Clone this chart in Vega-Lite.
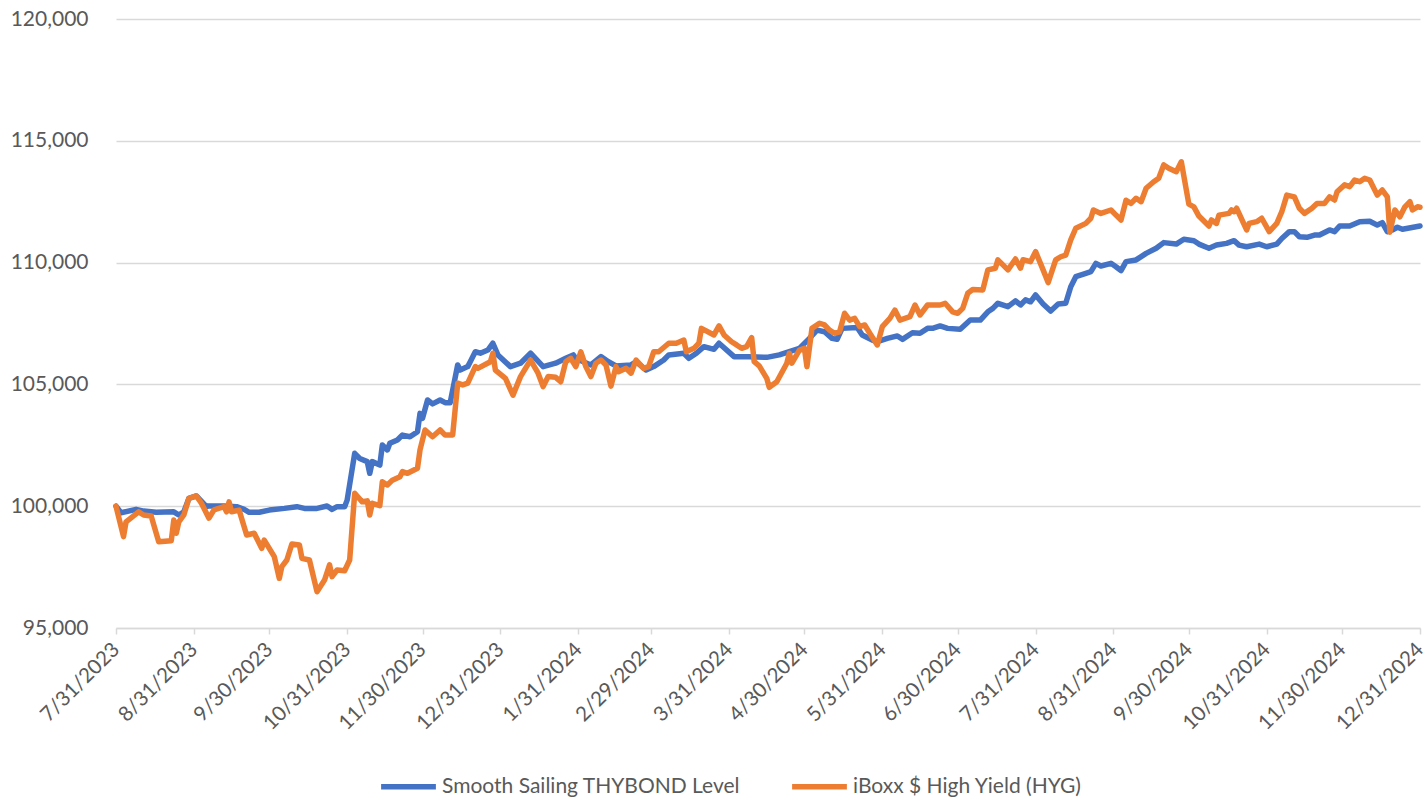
{
  "$schema": "https://vega.github.io/schema/vega-lite/v6.json",
  "autosize": {"type": "none"},
  "width": 1304,
  "height": 609,
  "padding": {"left": 116, "top": 19, "right": 7, "bottom": 170},
  "background": "white",
  "config": {"view": {"stroke": null}, "font": "Lato"},
  "datasets": {
    "thybond": [
      {"d":"2023-07-31","v":100000},{"d":"2023-08-02","v":99730},{"d":"2023-08-08","v":99870},{"d":"2023-08-11","v":99800},{"d":"2023-08-16","v":99750},{"d":"2023-08-23","v":99770},{"d":"2023-08-25","v":99640},{"d":"2023-08-27","v":99770},{"d":"2023-08-29","v":100320},{"d":"2023-09-01","v":100420},{"d":"2023-09-05","v":99980},{"d":"2023-09-06","v":100010},{"d":"2023-09-12","v":100010},{"d":"2023-09-17","v":99980},{"d":"2023-09-20","v":99870},{"d":"2023-09-22","v":99750},{"d":"2023-09-26","v":99750},{"d":"2023-09-30","v":99840},{"d":"2023-10-06","v":99910},{"d":"2023-10-11","v":99980},{"d":"2023-10-14","v":99910},{"d":"2023-10-19","v":99910},{"d":"2023-10-23","v":100010},{"d":"2023-10-25","v":99870},{"d":"2023-10-27","v":99980},{"d":"2023-10-30","v":99980},{"d":"2023-10-31","v":100250},{"d":"2023-11-03","v":102170},{"d":"2023-11-05","v":101960},{"d":"2023-11-08","v":101830},{"d":"2023-11-09","v":101350},{"d":"2023-11-10","v":101830},{"d":"2023-11-13","v":101690},{"d":"2023-11-14","v":102510},{"d":"2023-11-16","v":102310},{"d":"2023-11-17","v":102580},{"d":"2023-11-20","v":102720},{"d":"2023-11-22","v":102920},{"d":"2023-11-25","v":102850},{"d":"2023-11-28","v":103060},{"d":"2023-11-29","v":103810},{"d":"2023-11-30","v":103610},{"d":"2023-12-02","v":104360},{"d":"2023-12-04","v":104200},{"d":"2023-12-07","v":104360},{"d":"2023-12-09","v":104250},{"d":"2023-12-11","v":104250},{"d":"2023-12-14","v":105800},{"d":"2023-12-15","v":105590},{"d":"2023-12-18","v":105730},{"d":"2023-12-19","v":105930},{"d":"2023-12-21","v":106340},{"d":"2023-12-23","v":106280},{"d":"2023-12-26","v":106410},{"d":"2023-12-28","v":106690},{"d":"2023-12-30","v":106210},{"d":"2024-01-04","v":105730},{"d":"2024-01-08","v":105870},{"d":"2024-01-12","v":106280},{"d":"2024-01-17","v":105730},{"d":"2024-01-22","v":105870},{"d":"2024-01-26","v":106070},{"d":"2024-01-29","v":106210},{"d":"2024-01-30","v":106070},{"d":"2024-02-02","v":105930},{"d":"2024-02-05","v":105800},{"d":"2024-02-09","v":106140},{"d":"2024-02-12","v":105930},{"d":"2024-02-15","v":105760},{"d":"2024-02-21","v":105800},{"d":"2024-02-23","v":105930},{"d":"2024-02-27","v":105590},{"d":"2024-03-01","v":105730},{"d":"2024-03-05","v":106000},{"d":"2024-03-07","v":106210},{"d":"2024-03-13","v":106280},{"d":"2024-03-15","v":106070},{"d":"2024-03-18","v":106280},{"d":"2024-03-21","v":106550},{"d":"2024-03-25","v":106440},{"d":"2024-03-27","v":106690},{"d":"2024-04-02","v":106140},{"d":"2024-04-08","v":106140},{"d":"2024-04-15","v":106110},{"d":"2024-04-20","v":106210},{"d":"2024-04-28","v":106480},{"d":"2024-05-02","v":106890},{"d":"2024-05-05","v":107230},{"d":"2024-05-08","v":107160},{"d":"2024-05-11","v":106890},{"d":"2024-05-13","v":106850},{"d":"2024-05-15","v":107300},{"d":"2024-05-21","v":107340},{"d":"2024-05-23","v":107030},{"d":"2024-05-27","v":106820},{"d":"2024-05-29","v":106750},{"d":"2024-06-02","v":106890},{"d":"2024-06-06","v":106990},{"d":"2024-06-08","v":106850},{"d":"2024-06-12","v":107120},{"d":"2024-06-15","v":107100},{"d":"2024-06-18","v":107300},{"d":"2024-06-20","v":107300},{"d":"2024-06-23","v":107400},{"d":"2024-06-26","v":107300},{"d":"2024-07-01","v":107260},{"d":"2024-07-05","v":107640},{"d":"2024-07-09","v":107640},{"d":"2024-07-12","v":107980},{"d":"2024-07-14","v":108120},{"d":"2024-07-16","v":108330},{"d":"2024-07-20","v":108190},{"d":"2024-07-23","v":108430},{"d":"2024-07-25","v":108260},{"d":"2024-07-27","v":108470},{"d":"2024-07-29","v":108390},{"d":"2024-07-31","v":108670},{"d":"2024-08-03","v":108300},{"d":"2024-08-06","v":108010},{"d":"2024-08-09","v":108300},{"d":"2024-08-12","v":108330},{"d":"2024-08-14","v":109010},{"d":"2024-08-16","v":109420},{"d":"2024-08-20","v":109560},{"d":"2024-08-22","v":109630},{"d":"2024-08-24","v":109970},{"d":"2024-08-26","v":109860},{"d":"2024-08-30","v":109970},{"d":"2024-09-01","v":109830},{"d":"2024-09-03","v":109670},{"d":"2024-09-05","v":110040},{"d":"2024-09-09","v":110110},{"d":"2024-09-13","v":110380},{"d":"2024-09-17","v":110590},{"d":"2024-09-20","v":110820},{"d":"2024-09-25","v":110760},{"d":"2024-09-28","v":110960},{"d":"2024-10-02","v":110900},{"d":"2024-10-04","v":110760},{"d":"2024-10-08","v":110590},{"d":"2024-10-11","v":110720},{"d":"2024-10-15","v":110790},{"d":"2024-10-18","v":110900},{"d":"2024-10-20","v":110720},{"d":"2024-10-23","v":110650},{"d":"2024-10-28","v":110760},{"d":"2024-10-31","v":110650},{"d":"2024-11-04","v":110760},{"d":"2024-11-06","v":110990},{"d":"2024-11-09","v":111270},{"d":"2024-11-11","v":111270},{"d":"2024-11-13","v":111060},{"d":"2024-11-16","v":111040},{"d":"2024-11-19","v":111130},{"d":"2024-11-21","v":111130},{"d":"2024-11-25","v":111340},{"d":"2024-11-27","v":111270},{"d":"2024-11-29","v":111500},{"d":"2024-12-03","v":111500},{"d":"2024-12-07","v":111680},{"d":"2024-12-11","v":111700},{"d":"2024-12-14","v":111540},{"d":"2024-12-16","v":111640},{"d":"2024-12-18","v":111270},{"d":"2024-12-20","v":111340},{"d":"2024-12-22","v":111450},{"d":"2024-12-24","v":111370},{"d":"2024-12-31","v":111500}
    ],
    "hyg": [
      {"d":"2023-07-31","v":100000},{"d":"2023-08-03","v":98750},{"d":"2023-08-04","v":99360},{"d":"2023-08-09","v":99770},{"d":"2023-08-11","v":99640},{"d":"2023-08-14","v":99600},{"d":"2023-08-17","v":98540},{"d":"2023-08-22","v":98580},{"d":"2023-08-23","v":99430},{"d":"2023-08-24","v":98890},{"d":"2023-08-25","v":99360},{"d":"2023-08-27","v":99640},{"d":"2023-08-29","v":100320},{"d":"2023-09-01","v":100420},{"d":"2023-09-03","v":100120},{"d":"2023-09-06","v":99510},{"d":"2023-09-08","v":99850},{"d":"2023-09-12","v":99980},{"d":"2023-09-13","v":99770},{"d":"2023-09-14","v":100180},{"d":"2023-09-15","v":99770},{"d":"2023-09-18","v":99840},{"d":"2023-09-21","v":98820},{"d":"2023-09-24","v":98890},{"d":"2023-09-27","v":98270},{"d":"2023-09-28","v":98610},{"d":"2023-10-02","v":97930},{"d":"2023-10-04","v":97040},{"d":"2023-10-05","v":97520},{"d":"2023-10-07","v":97790},{"d":"2023-10-09","v":98450},{"d":"2023-10-12","v":98410},{"d":"2023-10-13","v":97860},{"d":"2023-10-16","v":97790},{"d":"2023-10-19","v":96490},{"d":"2023-10-22","v":96970},{"d":"2023-10-24","v":97590},{"d":"2023-10-25","v":97110},{"d":"2023-10-27","v":97380},{"d":"2023-10-30","v":97350},{"d":"2023-11-01","v":97790},{"d":"2023-11-03","v":100530},{"d":"2023-11-06","v":100180},{"d":"2023-11-08","v":100220},{"d":"2023-11-09","v":99640},{"d":"2023-11-10","v":100120},{"d":"2023-11-13","v":100020},{"d":"2023-11-14","v":101000},{"d":"2023-11-16","v":100870},{"d":"2023-11-18","v":101070},{"d":"2023-11-21","v":101210},{"d":"2023-11-22","v":101420},{"d":"2023-11-24","v":101350},{"d":"2023-11-28","v":101560},{"d":"2023-11-29","v":102310},{"d":"2023-12-01","v":103130},{"d":"2023-12-04","v":102850},{"d":"2023-12-07","v":103130},{"d":"2023-12-09","v":102920},{"d":"2023-12-12","v":102920},{"d":"2023-12-14","v":105050},{"d":"2023-12-16","v":104980},{"d":"2023-12-18","v":105050},{"d":"2023-12-21","v":105730},{"d":"2023-12-22","v":105660},{"d":"2023-12-27","v":105930},{"d":"2023-12-28","v":106280},{"d":"2023-12-29","v":105590},{"d":"2024-01-02","v":105250},{"d":"2024-01-05","v":104560},{"d":"2024-01-08","v":105320},{"d":"2024-01-12","v":106000},{"d":"2024-01-15","v":105460},{"d":"2024-01-17","v":104910},{"d":"2024-01-19","v":105320},{"d":"2024-01-22","v":105290},{"d":"2024-01-24","v":105110},{"d":"2024-01-26","v":105930},{"d":"2024-01-28","v":106070},{"d":"2024-01-30","v":105730},{"d":"2024-02-01","v":106340},{"d":"2024-02-03","v":105730},{"d":"2024-02-05","v":105320},{"d":"2024-02-07","v":105870},{"d":"2024-02-09","v":106000},{"d":"2024-02-11","v":105800},{"d":"2024-02-13","v":104930},{"d":"2024-02-15","v":105730},{"d":"2024-02-16","v":105520},{"d":"2024-02-19","v":105660},{"d":"2024-02-21","v":105460},{"d":"2024-02-23","v":106000},{"d":"2024-02-26","v":105660},{"d":"2024-02-28","v":105730},{"d":"2024-03-01","v":106340},{"d":"2024-03-03","v":106340},{"d":"2024-03-07","v":106690},{"d":"2024-03-10","v":106690},{"d":"2024-03-13","v":106820},{"d":"2024-03-14","v":106340},{"d":"2024-03-17","v":106480},{"d":"2024-03-19","v":106690},{"d":"2024-03-20","v":107300},{"d":"2024-03-25","v":107030},{"d":"2024-03-27","v":107400},{"d":"2024-03-29","v":107030},{"d":"2024-04-01","v":106750},{"d":"2024-04-03","v":106620},{"d":"2024-04-05","v":106480},{"d":"2024-04-07","v":106550},{"d":"2024-04-09","v":106920},{"d":"2024-04-10","v":105930},{"d":"2024-04-12","v":105760},{"d":"2024-04-15","v":105250},{"d":"2024-04-16","v":104880},{"d":"2024-04-19","v":105110},{"d":"2024-04-23","v":105870},{"d":"2024-04-24","v":106280},{"d":"2024-04-25","v":105870},{"d":"2024-04-28","v":106410},{"d":"2024-04-30","v":106480},{"d":"2024-05-01","v":105730},{"d":"2024-05-03","v":107300},{"d":"2024-05-06","v":107510},{"d":"2024-05-08","v":107440},{"d":"2024-05-10","v":107230},{"d":"2024-05-12","v":107100},{"d":"2024-05-14","v":107160},{"d":"2024-05-16","v":107920},{"d":"2024-05-18","v":107640},{"d":"2024-05-20","v":107710},{"d":"2024-05-22","v":107370},{"d":"2024-05-24","v":107440},{"d":"2024-05-26","v":107100},{"d":"2024-05-29","v":106620},{"d":"2024-05-31","v":107370},{"d":"2024-06-03","v":107710},{"d":"2024-06-05","v":108050},{"d":"2024-06-07","v":107640},{"d":"2024-06-11","v":107780},{"d":"2024-06-13","v":108260},{"d":"2024-06-15","v":107850},{"d":"2024-06-18","v":108260},{"d":"2024-06-21","v":108260},{"d":"2024-06-23","v":108260},{"d":"2024-06-25","v":108330},{"d":"2024-06-28","v":107980},{"d":"2024-06-30","v":107920},{"d":"2024-07-02","v":108120},{"d":"2024-07-04","v":108740},{"d":"2024-07-06","v":108900},{"d":"2024-07-10","v":108880},{"d":"2024-07-12","v":109700},{"d":"2024-07-15","v":109770},{"d":"2024-07-16","v":110110},{"d":"2024-07-20","v":109700},{"d":"2024-07-23","v":110150},{"d":"2024-07-25","v":109770},{"d":"2024-07-26","v":110120},{"d":"2024-07-29","v":110040},{"d":"2024-07-31","v":110450},{"d":"2024-08-03","v":109700},{"d":"2024-08-05","v":109180},{"d":"2024-08-08","v":110110},{"d":"2024-08-10","v":110240},{"d":"2024-08-12","v":110310},{"d":"2024-08-14","v":110930},{"d":"2024-08-16","v":111410},{"d":"2024-08-20","v":111610},{"d":"2024-08-22","v":111820},{"d":"2024-08-23","v":112160},{"d":"2024-08-26","v":112020},{"d":"2024-08-30","v":112160},{"d":"2024-09-01","v":111950},{"d":"2024-09-03","v":111750},{"d":"2024-09-05","v":112560},{"d":"2024-09-07","v":112430},{"d":"2024-09-09","v":112640},{"d":"2024-09-11","v":112500},{"d":"2024-09-13","v":113050},{"d":"2024-09-16","v":113320},{"d":"2024-09-18","v":113460},{"d":"2024-09-20","v":114010},{"d":"2024-09-22","v":113870},{"d":"2024-09-25","v":113730},{"d":"2024-09-27","v":114140},{"d":"2024-09-30","v":112400},{"d":"2024-10-02","v":112290},{"d":"2024-10-04","v":111910},{"d":"2024-10-08","v":111500},{"d":"2024-10-09","v":111750},{"d":"2024-10-11","v":111610},{"d":"2024-10-12","v":111950},{"d":"2024-10-16","v":112020},{"d":"2024-10-17","v":112160},{"d":"2024-10-18","v":112090},{"d":"2024-10-19","v":112230},{"d":"2024-10-23","v":111340},{"d":"2024-10-24","v":111610},{"d":"2024-10-27","v":111680},{"d":"2024-10-29","v":111820},{"d":"2024-11-01","v":111270},{"d":"2024-11-04","v":111610},{"d":"2024-11-06","v":112090},{"d":"2024-11-08","v":112770},{"d":"2024-11-11","v":112700},{"d":"2024-11-13","v":112230},{"d":"2024-11-15","v":112020},{"d":"2024-11-18","v":112230},{"d":"2024-11-20","v":112430},{"d":"2024-11-23","v":112430},{"d":"2024-11-25","v":112700},{"d":"2024-11-27","v":112570},{"d":"2024-11-28","v":112910},{"d":"2024-12-01","v":113190},{"d":"2024-12-03","v":113120},{"d":"2024-12-05","v":113390},{"d":"2024-12-07","v":113320},{"d":"2024-12-09","v":113460},{"d":"2024-12-11","v":113390},{"d":"2024-12-14","v":112770},{"d":"2024-12-16","v":112980},{"d":"2024-12-18","v":112700},{"d":"2024-12-19","v":111250},{"d":"2024-12-21","v":112160},{"d":"2024-12-23","v":111880},{"d":"2024-12-25","v":112290},{"d":"2024-12-27","v":112500},{"d":"2024-12-28","v":112160},{"d":"2024-12-30","v":112290},{"d":"2024-12-31","v":112270}
    ]
  },
  "encoding": {
    "x": {
      "field": "d", "type": "temporal",
      "scale": {"type": "utc", "domain": [{"year":2023,"month":7,"date":31,"utc":true},{"year":2024,"month":12,"date":31,"utc":true}], "nice": false},
      "axis": {
        "title": null,
        "grid": false,
        "values": [
          {"year":2023,"month":7,"date":31,"utc":true},{"year":2023,"month":8,"date":31,"utc":true},{"year":2023,"month":9,"date":30,"utc":true},{"year":2023,"month":10,"date":31,"utc":true},{"year":2023,"month":11,"date":30,"utc":true},{"year":2023,"month":12,"date":31,"utc":true},
          {"year":2024,"month":1,"date":31,"utc":true},{"year":2024,"month":2,"date":29,"utc":true},{"year":2024,"month":3,"date":31,"utc":true},{"year":2024,"month":4,"date":30,"utc":true},{"year":2024,"month":5,"date":31,"utc":true},{"year":2024,"month":6,"date":30,"utc":true},
          {"year":2024,"month":7,"date":31,"utc":true},{"year":2024,"month":8,"date":31,"utc":true},{"year":2024,"month":9,"date":30,"utc":true},{"year":2024,"month":10,"date":31,"utc":true},{"year":2024,"month":11,"date":30,"utc":true},{"year":2024,"month":12,"date":31,"utc":true}
        ],
        "labelExpr": "utcFormat(datum.value, '%-m/%-d/%Y')",
        "labelAngle": -45,
        "labelAlign": "right",
        "labelBaseline": "middle",
        "labelFontSize": 20.5,
        "labelColor": "#595959",
        "labelFont": "Lato",
        "labelPadding": 12,
        "labelOverlap": false,
        "labelBound": false,
        "labelFlush": false,
        "domainColor": "#D9D9D9",
        "domainWidth": 1.5,
        "tickColor": "#D9D9D9",
        "tickWidth": 1.5,
        "tickSize": 6
      }
    },
    "y": {
      "field": "v", "type": "quantitative",
      "scale": {"domain": [95000, 120000], "nice": false, "zero": false},
      "axis": {
        "title": null,
        "values": [95000, 100000, 105000, 110000, 115000, 120000],
        "format": ",.0f",
        "domain": false,
        "ticks": false,
        "grid": true,
        "gridColor": "#D9D9D9",
        "gridWidth": 1.5,
        "labelFontSize": 21,
        "labelColor": "#595959",
        "labelFont": "Lato",
        "labelPadding": 28
      }
    },
    "color": {
      "scale": {"domain": ["Smooth Sailing THYBOND Level", "iBoxx $ High Yield (HYG)"], "range": ["#4472C4", "#ED7D31"]},
      "legend": {
        "title": null,
        "orient": "none",
        "legendX": 262,
        "legendY": 737,
        "direction": "horizontal",
        "symbolType": "stroke",
        "symbolSize": 3000,
        "symbolStrokeWidth": 5.5,
        "labelFontSize": 21,
        "labelColor": "#595959",
        "labelFont": "Lato",
        "labelOffset": 3,
        "columnPadding": 40,
        "labelLimit": 500
      }
    }
  },
  "layer": [
    {
      "data": {"name": "thybond"},
      "mark": {"type": "line", "strokeWidth": 5.5, "strokeJoin": "round", "strokeCap": "round"},
      "encoding": {"color": {"datum": "Smooth Sailing THYBOND Level"}}
    },
    {
      "data": {"name": "hyg"},
      "mark": {"type": "line", "strokeWidth": 5.5, "strokeJoin": "round", "strokeCap": "round"},
      "encoding": {"color": {"datum": "iBoxx $ High Yield (HYG)"}}
    }
  ]
}
